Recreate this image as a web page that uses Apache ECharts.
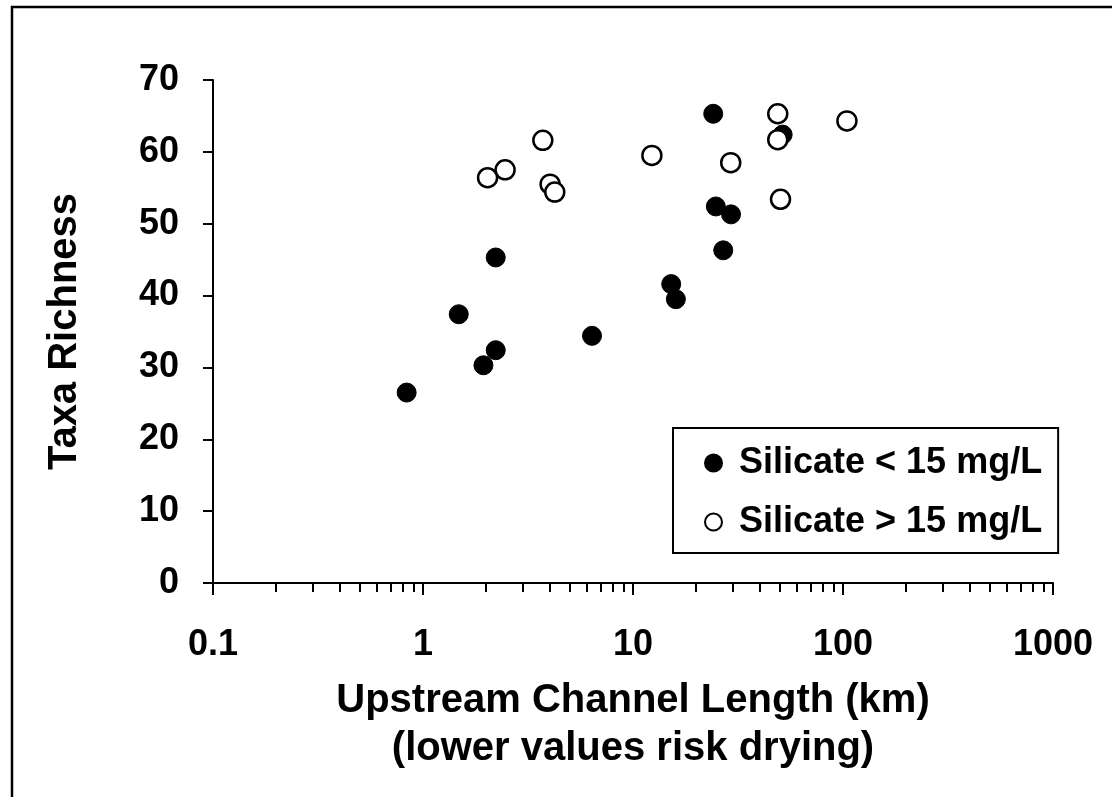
<!DOCTYPE html>
<html>
<head>
<meta charset="utf-8">
<script src="https://cdn.jsdelivr.net/npm/echarts@6/dist/echarts.min.js"></script>
<style>
html,body{margin:0;padding:0;background:#fff;}
#chart{width:1112px;height:797px;}
</style>
</head>
<body>
<div id="chart"></div>
<script>
// Data: [upstream channel length (km), taxa richness]
var lowSilicateLength = [0.836, 1.48, 1.94, 2.22, 2.22, 6.38, 15.2, 16.0, 24.1, 24.8, 26.9, 29.3, 51.6];
var lowSilicateRichness = [26.5, 37.4, 30.3, 32.4, 45.3, 34.4, 41.6, 39.5, 65.3, 52.4, 46.3, 51.3, 62.4];
var highSilicateLength = [2.03, 2.46, 3.72, 4.03, 4.24, 12.3, 29.2, 48.9, 48.9, 50.4, 104.4];
var highSilicateRichness = [56.4, 57.5, 61.6, 55.5, 54.4, 59.5, 58.5, 65.3, 61.7, 53.4, 64.3];
var seriesNames = ['Silicate < 15 mg/L', 'Silicate > 15 mg/L'];
var minorTickValues = [0.2,0.3,0.4,0.5,0.6,0.7,0.8,0.9, 2,3,4,5,6,7,8,9, 20,30,40,50,60,70,80,90, 200,300,400,500,600,700,800,900];
var xTickLabels = ['0.1', '1', '10', '100', '1000'];

function zip(xs, ys) { return xs.map(function (x, i) { return [x, ys[i]]; }); }

var FONT = 'Liberation Sans, Arial, sans-serif';
var chart = echarts.init(document.getElementById('chart'), null, {renderer: 'canvas'});
chart.setOption({
  animation: false,
  backgroundColor: '#fff',
  graphic: [{
    type: 'rect', silent: true, z: -1,
    shape: {x: 12, y: 7, width: 1300, height: 1000},
    style: {fill: 'none', stroke: '#000', lineWidth: 2.5}
  }],
  grid: {left: 213, right: 59, top: 80, bottom: 214, containLabel: false},
  xAxis: [{
    type: 'log', logBase: 10, min: 0.1, max: 1000,
    position: 'bottom',
    name: 'Upstream Channel Length (km)\n(lower values risk drying)',
    nameLocation: 'middle', nameGap: 94,
    nameTextStyle: {fontFamily: FONT, fontWeight: 'bold', fontSize: 40, color: '#000', lineHeight: 48},
    axisLine: {show: true, onZero: false, lineStyle: {color: '#000', width: 2}},
    axisTick: {show: true, inside: false, length: 12, lineStyle: {color: '#000', width: 2}},
    axisLabel: {
      margin: 44, fontFamily: FONT, fontWeight: 'bold', fontSize: 36, color: '#000',
      formatter: function (v) {
        var i = Math.round(Math.log10(v)) + 1;
        return xTickLabels[i] !== undefined ? xTickLabels[i] : String(v);
      }
    },
    splitLine: {show: false}
  }, {
    type: 'log', logBase: 10, min: 0.1, max: 1000,
    position: 'bottom', offset: 0,
    axisLine: {show: false},
    axisTick: {show: true, inside: false, length: 9, customValues: minorTickValues, lineStyle: {color: '#000', width: 2}},
    axisLabel: {show: false},
    splitLine: {show: false}
  }],
  yAxis: {
    type: 'value', min: 0, max: 70, interval: 10,
    name: 'Taxa Richness', nameLocation: 'middle', nameGap: 128, nameRotate: 90,
    nameTextStyle: {fontFamily: FONT, fontWeight: 'bold', fontSize: 40, color: '#000'},
    axisLine: {show: true, lineStyle: {color: '#000', width: 2}},
    axisTick: {show: true, inside: false, length: 10, lineStyle: {color: '#000', width: 2}},
    axisLabel: {margin: 34, fontFamily: FONT, fontWeight: 'bold', fontSize: 36, color: '#000'},
    splitLine: {show: false}
  },
  legend: {
    orient: 'vertical', left: 673, top: 428,
    padding: [15, 16, 11, 31], itemGap: 19,
    itemWidth: 17, itemHeight: 17,
    borderColor: '#000', borderWidth: 2, backgroundColor: '#fff',
    textStyle: {fontFamily: FONT, fontWeight: 'bold', fontSize: 36, color: '#000', lineHeight: 40, padding: [0, 0, 0, 12]},
    data: [{name: seriesNames[0], icon: 'circle'}, {name: seriesNames[1], icon: 'circle'}]
  },
  series: [{
    name: seriesNames[0], type: 'scatter', xAxisIndex: 0,
    symbol: 'circle', symbolSize: 19,
    itemStyle: {color: '#000', borderColor: '#000', borderWidth: 1, opacity: 1},
    data: zip(lowSilicateLength, lowSilicateRichness)
  }, {
    name: seriesNames[1], type: 'scatter', xAxisIndex: 0,
    symbol: 'circle', symbolSize: 19,
    itemStyle: {color: '#fff', borderColor: '#000', borderWidth: 2.5, opacity: 1},
    data: zip(highSilicateLength, highSilicateRichness)
  }]
});
</script>
</body>
</html>
